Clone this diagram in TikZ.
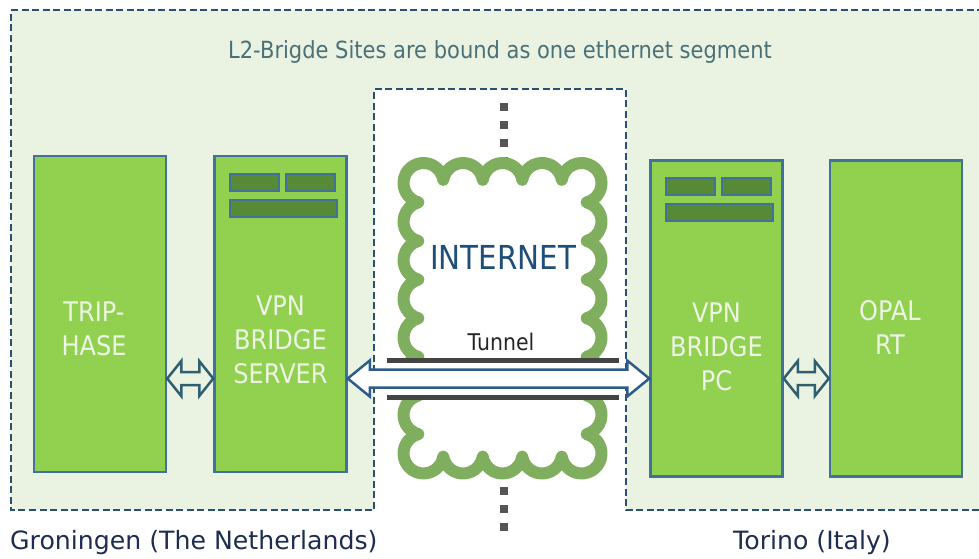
\documentclass[tikz,border=0pt]{standalone}
\usepackage{fontspec}
\setmainfont{DejaVu Sans}
\newfontfamily\narrowfont[FakeStretch=0.89]{DejaVu Sans}
\usetikzlibrary{positioning,calc}

\definecolor{bggreen}{HTML}{EAF2E1}
\definecolor{siteline}{HTML}{2A5070}
\definecolor{unitfill}{HTML}{92D050}
\definecolor{unitline}{HTML}{41719C}
\definecolor{slotfill}{HTML}{568A36}
\definecolor{unittext}{HTML}{EDF5E4}
\definecolor{titletext}{HTML}{4A7078}
\definecolor{nettext}{HTML}{1F4E79}
\definecolor{cloudline}{HTML}{7EAE5E}
\definecolor{placetext}{HTML}{1E2D4F}
\definecolor{linkline}{HTML}{2F5F70}
\definecolor{tunnelline}{HTML}{2E5C8A}
\definecolor{tunnelbar}{HTML}{444444}
\definecolor{dotgray}{HTML}{555555}

\begin{document}
\begin{tikzpicture}
    [x=1pt,y=-1pt,
    device/.style={rectangle,draw=unitline,fill=unitfill,line width=2.5pt,
    inner sep=0pt,minimum width=132pt,minimum height=316pt},
    devtext/.style={inner sep=0pt,align=center,text=unittext,
    font=\narrowfont\fontsize{27}{34}\selectfont},
    slotbar/.style={draw=unitline,fill=slotfill,line width=2pt},
    site/.style={draw=siteline,line width=2.5pt,dash pattern=on 7pt off 3.5pt},
    link/.style={draw=linkline,fill=bggreen,line width=2.5pt,line join=miter},
    tunnel/.style={draw=tunnelline,fill=white,line width=2.5pt},
    netpath/.style={draw=dotgray,line width=8pt,dash pattern=on 8pt off 10pt},
    cloudedge/.style={draw=cloudline,fill=white,line width=12pt,line join=round},
    caption/.style={inner sep=0pt,text=placetext,font=\fontsize{25.2}{30}\selectfont}]
    \useasboundingbox (0,0) rectangle (979,558);

    % sites
    \fill[bggreen] (11,10) -- (979,10) -- (979,510) -- (626,510) -- (626,89)
        -- (374,89) -- (374,510) -- (11,510) -- cycle;
    \draw[site] (979,510) -- (626,510) -- (626,89) -- (374,89) -- (374,510)
        -- (11,510) -- (11,10) -- (979,10);
    \node[anchor=base,inner sep=0pt,text=titletext,
        font=\narrowfont\fontsize{23.6}{28}\selectfont] (banner) at (500,58)
        {L2-Brigde Sites are bound as one ethernet segment};

    % internet
    \coordinate (in-a) at (504,103);
    \coordinate (in-b) at (504,170);
    \coordinate (out-a) at (504,487);
    \coordinate (out-b) at (504,531);
    \draw[netpath] (in-a) -- (in-b);
    \draw[netpath] (out-a) -- (out-b);
    \draw[cloudedge] (423.5,183) ++(105:20)
        arc[start angle=105,end angle=351,radius=20]
        \foreach \k in {1,2,3} {arc[start angle=189,end angle=351,radius=20]}
        arc[start angle=189,end angle=435,radius=20]
        \foreach \k in {1,...,6} {arc[start angle=285,end angle=435,radius=20]}
        arc[start angle=285,end angle=531,radius=20]
        \foreach \k in {1,2,3} {arc[start angle=369,end angle=531,radius=20]}
        arc[start angle=369,end angle=615,radius=20]
        \foreach \k in {1,...,6} {arc[start angle=465,end angle=615,radius=20]}
        -- cycle;
    \node[anchor=base,inner sep=0pt,text=nettext,
        font=\narrowfont\fontsize{33}{40}\selectfont] (net) at (503,269) {INTERNET};

    % devices
    \node[device] (trip) at (100,314) {};
    \node[device] (server) [right=46pt of trip] {};
    \node[device] (pc) at (716.5,318.5) {};
    \node[device] (opal) [right=45pt of pc] {};
    \foreach \dev in {server,pc} {
        \draw[slotbar] ([shift={(17,19)}]\dev.north west) rectangle +(49,17);
        \draw[slotbar] ([shift={(73,19)}]\dev.north west) rectangle +(49,17);
        \draw[slotbar] ([shift={(17,45)}]\dev.north west) rectangle +(107,17);
    }
    \node[devtext] (trip-txt) [below=147pt of trip.north,xshift=-6pt] {TRIP-\\HASE};
    \node[devtext] (server-txt) [below=141pt of server.north] {VPN\\BRIDGE\\SERVER};
    \node[devtext] (pc-txt) [below=143pt of pc.north] {VPN\\BRIDGE\\PC};
    \node[devtext] (opal-txt) [below=141pt of opal.north,xshift=-6pt] {OPAL\\RT};

    % tunnel
    \coordinate (linkrow) at (500,378.5);
    \fill[white] (387,360) rectangle (619,397);
    \draw[tunnelbar,line width=5pt] (387,360) -- (619,360);
    \draw[tunnelbar,line width=5pt] (387,397) -- (619,397);
    \node[anchor=base,inner sep=0pt,text=black!85,
        font=\narrowfont\fontsize{23}{28}\selectfont] (tunnel-txt) at (501,350) {Tunnel};
    \draw[tunnel] (server.east |- linkrow) -- ++(22,-18) -- ++(0,9)
        -- ($(pc.west |- linkrow)+(-22,-9)$) -- ++(0,-9) -- (pc.west |- linkrow)
        -- ++(-22,18) -- ++(0,-9) -- ($(server.east |- linkrow)+(22,9)$)
        -- ++(0,9) -- cycle;
    \draw[link] (trip.east |- linkrow) -- ++(14,-17.5) -- ++(0,11)
        -- ($(server.west |- linkrow)+(-14,-6.5)$) -- ++(0,-11) -- (server.west |- linkrow)
        -- ++(-14,17.5) -- ++(0,-11) -- ($(trip.east |- linkrow)+(14,6.5)$)
        -- ++(0,11) -- cycle;
    \draw[link] (pc.east |- linkrow) -- ++(14,-17.5) -- ++(0,11)
        -- ($(opal.west |- linkrow)+(-14,-6.5)$) -- ++(0,-11) -- (opal.west |- linkrow)
        -- ++(-14,17.5) -- ++(0,-11) -- ($(pc.east |- linkrow)+(14,6.5)$)
        -- ++(0,11) -- cycle;

    % places
    \node[caption,anchor=base west] (groningen) at (10,549) {Groningen (The Netherlands)};
    \node[caption,anchor=base] (torino) at (812,549) {Torino (Italy)};
\end{tikzpicture}
\end{document}
